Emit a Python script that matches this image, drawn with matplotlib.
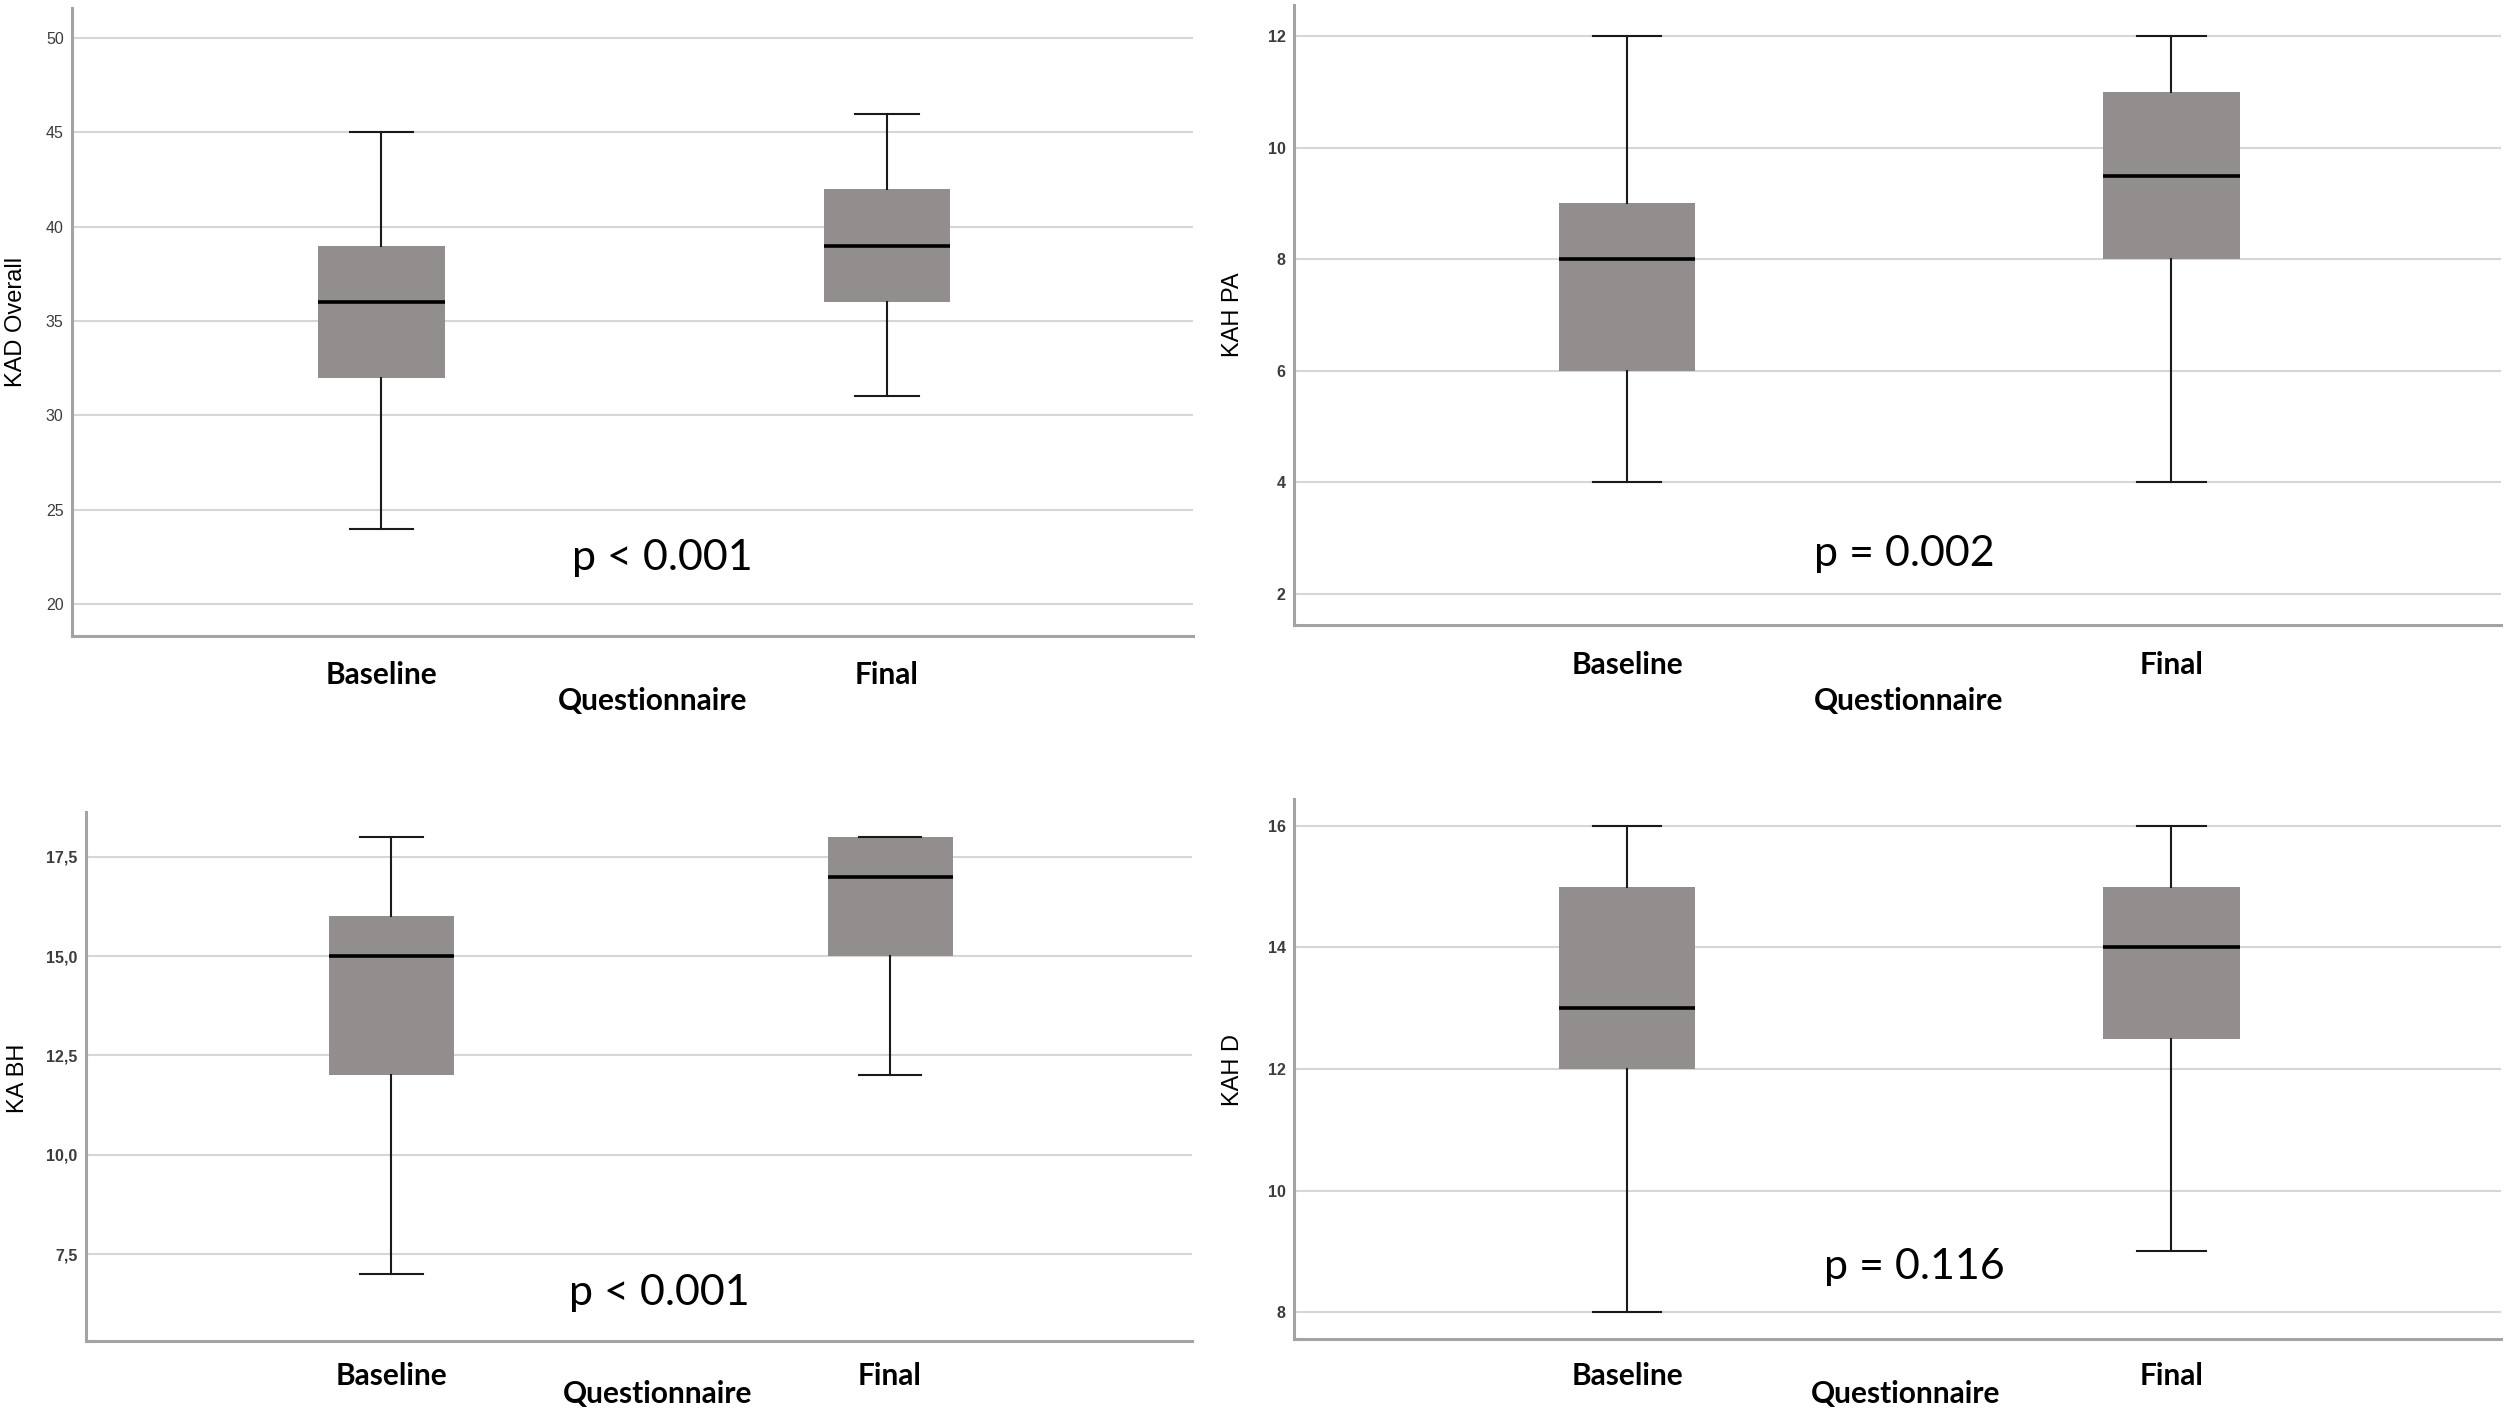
import matplotlib as mpl
mpl.use('agg')
import matplotlib.pyplot as plt

# five-number summaries: whisker low, Q1, median, Q3, whisker high
categories = ["Baseline", "Final"]
kad_overall_baseline = [24, 32, 36, 39, 45]
kad_overall_final = [31, 36, 39, 42, 46]
kah_pa_baseline = [4, 6, 8, 9, 12]
kah_pa_final = [4, 8, 9.5, 11, 12]
ka_bh_baseline = [7, 12, 15, 16, 18]
ka_bh_final = [12, 15, 17, 18, 18]
kah_d_baseline = [8, 12, 13, 15, 16]
kah_d_final = [9, 12.5, 14, 15, 16]

y_titles = ["KAD Overall", "KAH PA", "KA BH", "KAH D"]
p_texts = ["p < 0.001", "p = 0.002", "p < 0.001", "p = 0.116"]
x_title = "Questionnaire"

kad_ticks = [20, 25, 30, 35, 40, 45, 50]
kah_pa_ticks = [2, 4, 6, 8, 10, 12]
ka_bh_ticks = [7.5, 10.0, 12.5, 15.0, 17.5]
ka_bh_ticklabels = ["7,5", "10,0", "12,5", "15,0", "17,5"]
kah_d_ticks = [8, 10, 12, 14, 16]

W, H = 2508, 1411
fig = plt.figure(figsize=(W/100, H/100), dpi=100)

BOX = '#938e8e'
GRID = '#d6d6d6'
SPINE = '#a3a3a3'

def px_axes(l, t, r, b):
    return fig.add_axes([l/W, 1-b/H, (r-l)/W, (b-t)/H])

def stats(s, label):
    return dict(whislo=s[0], q1=s[1], med=s[2], q3=s[3], whishi=s[4], label=label, fliers=[])

# layout per panel, in pixels: axes box, ylim, title pos, p-text pos, x-title pos
panels = [
    dict(box=(72, 8, 1193, 636), ylim=(18.3, 51.6), data=(kad_overall_baseline, kad_overall_final),
         ticks=kad_ticks, ticklabels=[str(t) for t in kad_ticks], tw='normal', xpad=18,
         ytitle=(16, 322), ptext=(662, 558), xtitle=(653, 701)),
    dict(box=(1294, 5, 2501, 625), ylim=(1.444, 12.556), data=(kah_pa_baseline, kah_pa_final),
         ticks=kah_pa_ticks, ticklabels=[str(t) for t in kah_pa_ticks], tw='bold', xpad=18.5,
         ytitle=(1233, 315), ptext=(1904, 554), xtitle=(1909, 701)),
    dict(box=(86, 812, 1192, 1341), ylim=(5.31, 18.63), data=(ka_bh_baseline, ka_bh_final),
         ticks=ka_bh_ticks, ticklabels=ka_bh_ticklabels, tw='bold', xpad=15,
         ytitle=(18, 1078), ptext=(659, 1293), xtitle=(658, 1394)),
    dict(box=(1294, 799, 2501, 1339), ylim=(7.556, 16.444), data=(kah_d_baseline, kah_d_final),
         ticks=kah_d_ticks, ticklabels=[str(t) for t in kah_d_ticks], tw='bold', xpad=16.5,
         ytitle=(1233, 1070), ptext=(1914, 1267), xtitle=(1906, 1394)),
]

positions = [0.276, 0.727]

for i, p in enumerate(panels):
    ax = px_axes(*p['box'])
    bl, fi = p['data']
    ax.bxp([stats(bl, categories[0]), stats(fi, categories[1])], positions=positions,
           widths=0.113, patch_artist=True, showfliers=False,
           boxprops=dict(facecolor=BOX, edgecolor=BOX, linewidth=0),
           medianprops=dict(color='black', linewidth=2.6, solid_capstyle='butt'),
           whiskerprops=dict(color='#1a1a1a', linewidth=1.5),
           capprops=dict(color='#1a1a1a', linewidth=1.5), capwidths=0.0565)
    ax.set_xlim(0, 1)
    ax.set_ylim(*p['ylim'])
    ax.set_yticks(p['ticks'], p['ticklabels'])
    ax.tick_params(axis='y', length=0, pad=6, labelsize=11.5, labelcolor='#3c3c3c')
    for t in ax.get_yticklabels():
        t.set_family('Liberation Sans')
        t.set_fontweight(p['tw'])
    ax.set_xticks(positions, categories)
    ax.tick_params(axis='x', length=0, pad=p['xpad'])
    for t in ax.get_xticklabels():
        t.set_family('Lato')
        t.set_fontweight('bold')
        t.set_fontsize(21.5)
    ax.grid(True, axis='y', color=GRID, linewidth=1.5)
    ax.set_axisbelow(True)
    for s in ['top', 'right']:
        ax.spines[s].set_visible(False)
    for s in ['left', 'bottom']:
        ax.spines[s].set_color(SPINE)
        ax.spines[s].set_linewidth(2.2)
    fig.text(p['ytitle'][0]/W, 1-p['ytitle'][1]/H, y_titles[i], rotation=90,
             ha='center', va='center', fontsize=17, family='Liberation Sans')
    fig.text(p['ptext'][0]/W, 1-p['ptext'][1]/H, p_texts[i], ha='center', va='center',
             fontsize=31, family='Lato')
    fig.text(p['xtitle'][0]/W, 1-p['xtitle'][1]/H, x_title, ha='center', va='center',
             fontsize=21.5, family='Lato', fontweight='bold')

plt.savefig("out.png", dpi=100, facecolor='white')
